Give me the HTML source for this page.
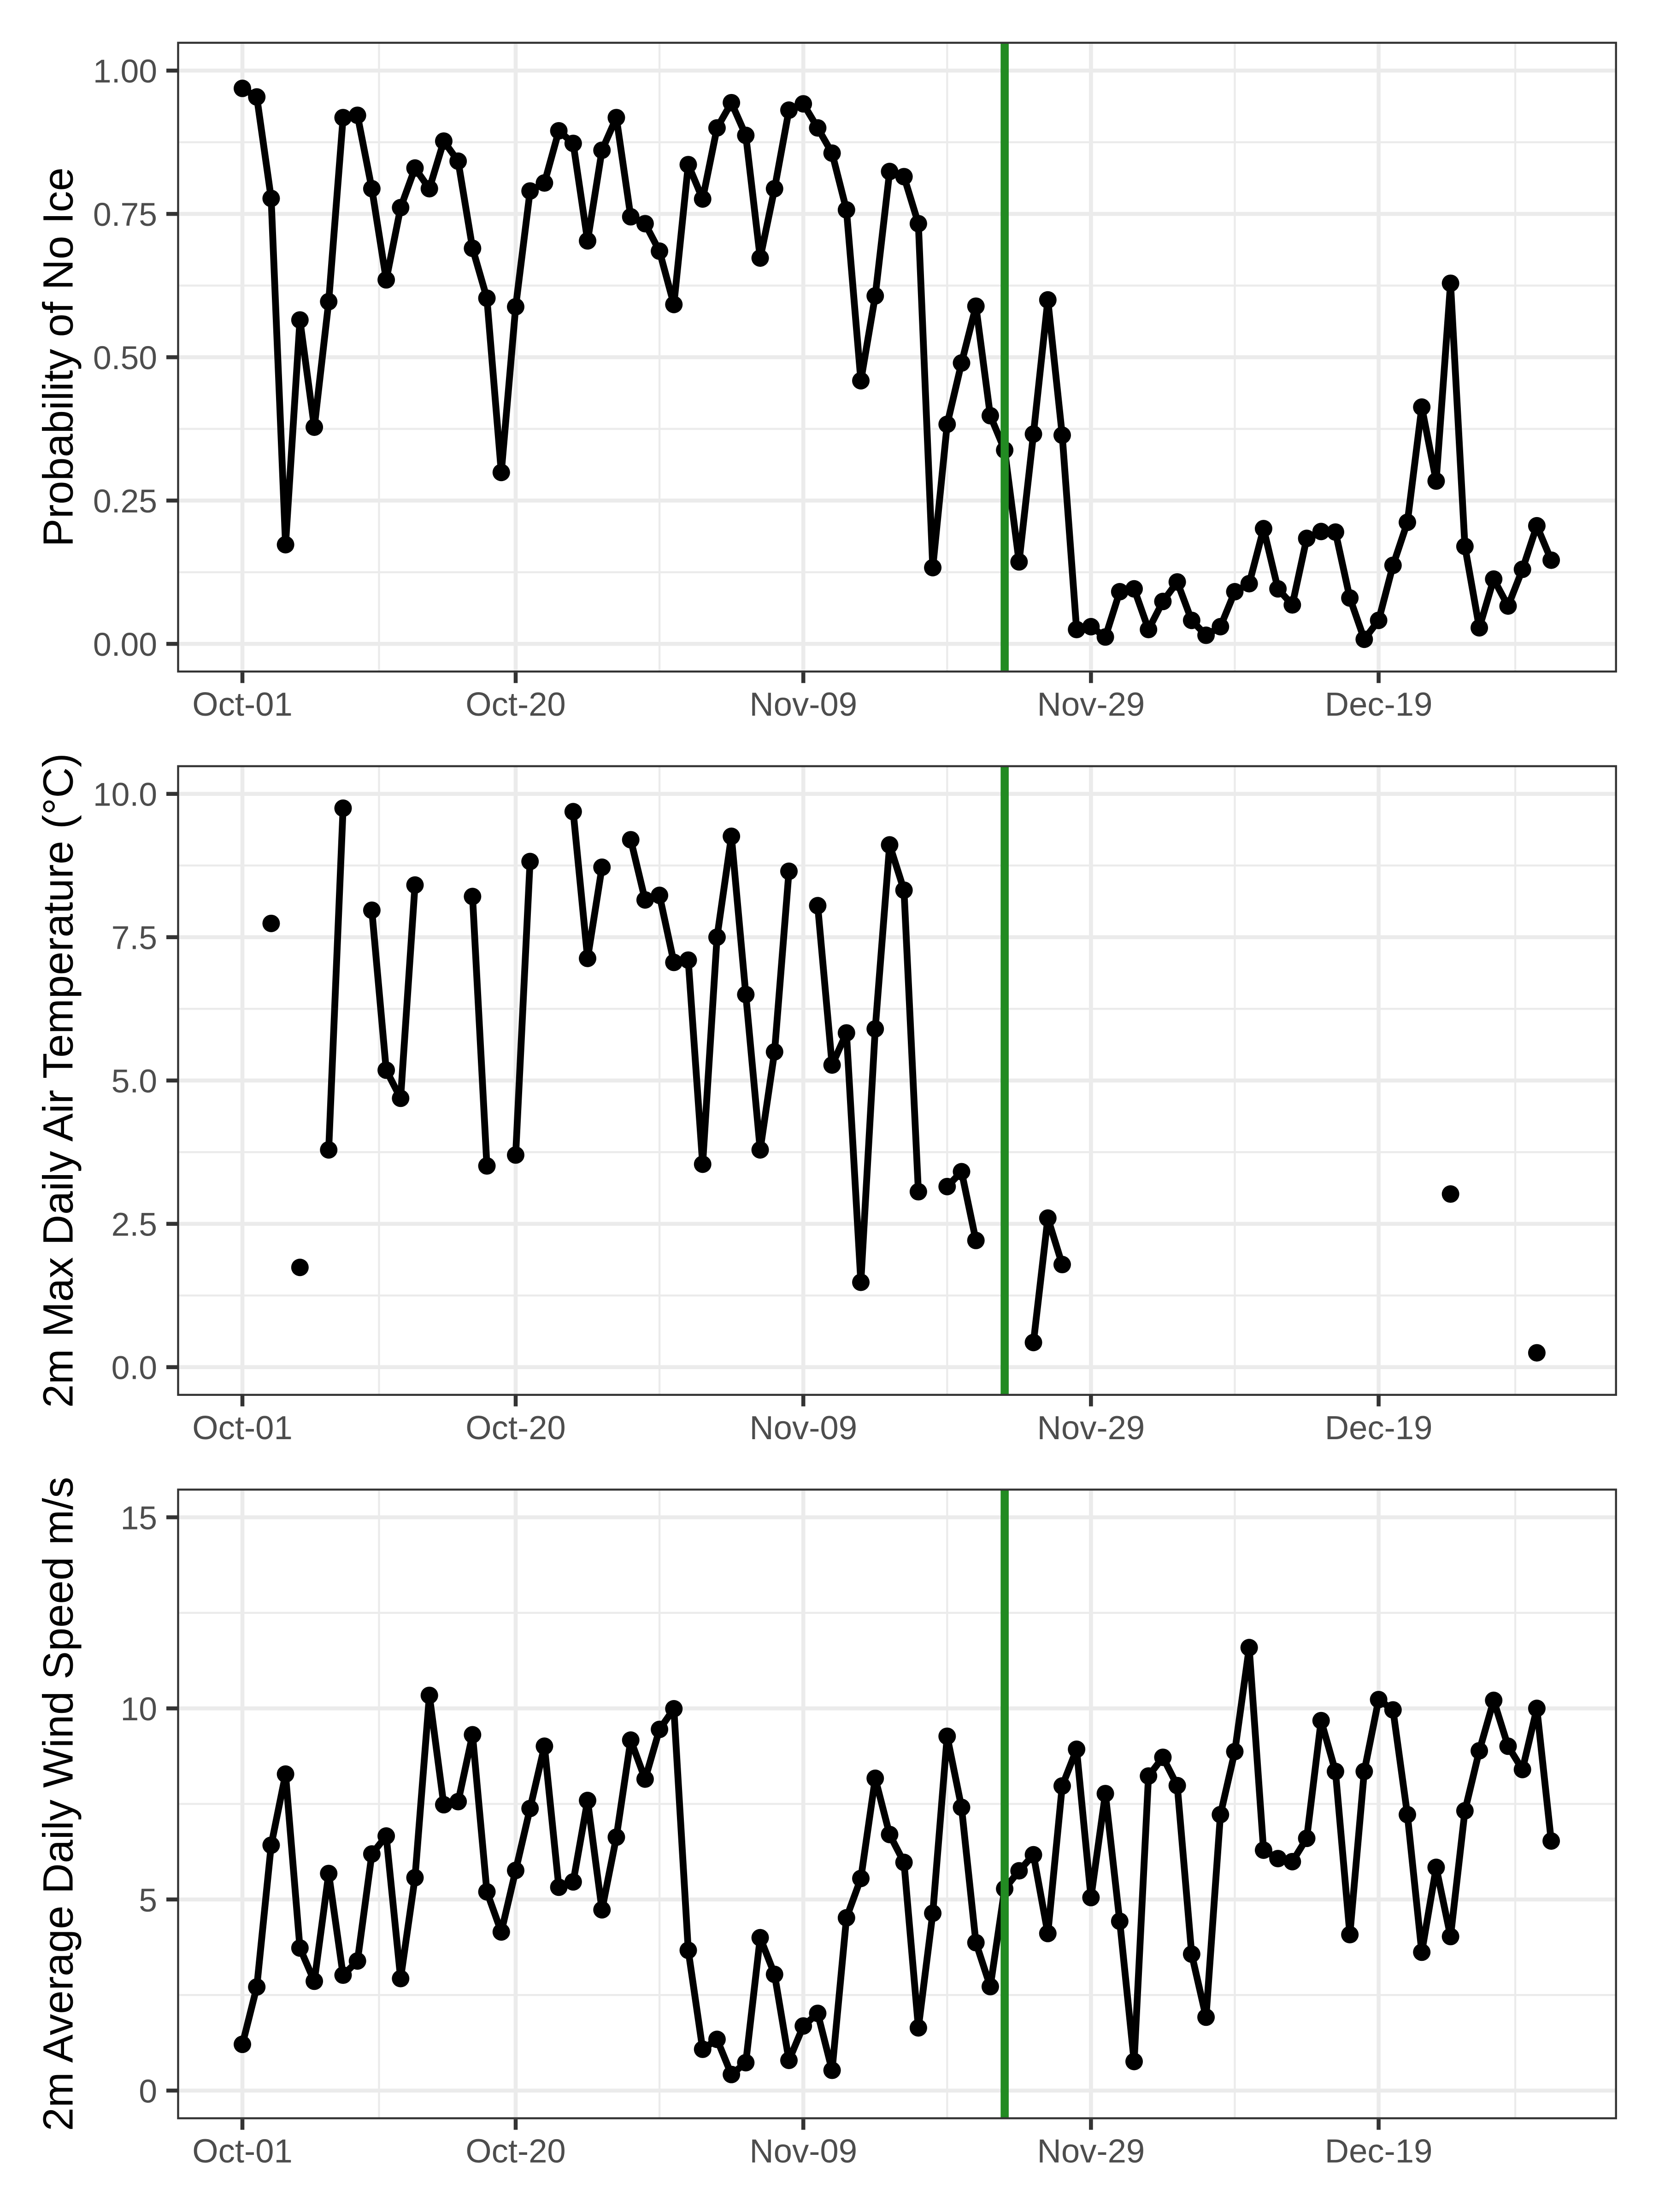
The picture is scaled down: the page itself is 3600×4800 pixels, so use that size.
<!DOCTYPE html>
<html lang="en">
<head>
<meta charset="utf-8">
<title>Probability of No Ice, Air Temperature and Wind Speed</title>
<style>
html,body{margin:0;padding:0;background:#fff;}
svg{display:block;font-family:"Liberation Sans",Arial,sans-serif;}
</style>
</head>
<body>
<svg id="chart" xmlns="http://www.w3.org/2000/svg" width="3600" height="4800" viewBox="0 0 3600 4800"></svg>
<script>
const dates = ["Oct-01","Oct-02","Oct-03","Oct-04","Oct-05","Oct-06","Oct-07","Oct-08","Oct-09","Oct-10","Oct-11","Oct-12","Oct-13","Oct-14","Oct-15","Oct-16","Oct-17","Oct-18","Oct-19","Oct-20","Oct-21","Oct-22","Oct-23","Oct-24","Oct-25","Oct-26","Oct-27","Oct-28","Oct-29","Oct-30","Oct-31","Nov-01","Nov-02","Nov-03","Nov-04","Nov-05","Nov-06","Nov-07","Nov-08","Nov-09","Nov-10","Nov-11","Nov-12","Nov-13","Nov-14","Nov-15","Nov-16","Nov-17","Nov-18","Nov-19","Nov-20","Nov-21","Nov-22","Nov-23","Nov-24","Nov-25","Nov-26","Nov-27","Nov-28","Nov-29","Nov-30","Dec-01","Dec-02","Dec-03","Dec-04","Dec-05","Dec-06","Dec-07","Dec-08","Dec-09","Dec-10","Dec-11","Dec-12","Dec-13","Dec-14","Dec-15","Dec-16","Dec-17","Dec-18","Dec-19","Dec-20","Dec-21","Dec-22","Dec-23","Dec-24","Dec-25","Dec-26","Dec-27","Dec-28","Dec-29","Dec-30","Dec-31"];

const probNoIce = [0.969,0.954,0.777,0.173,0.565,0.378,0.597,0.918,0.922,0.794,0.635,0.761,0.830,0.794,0.877,0.842,0.690,0.603,0.299,0.588,0.790,0.804,0.895,0.873,0.703,0.861,0.918,0.745,0.733,0.685,0.592,0.836,0.776,0.900,0.944,0.887,0.673,0.794,0.931,0.942,0.900,0.856,0.757,0.459,0.607,0.824,0.815,0.733,0.133,0.383,0.490,0.589,0.398,0.338,0.143,0.366,0.600,0.364,0.025,0.030,0.012,0.091,0.096,0.025,0.074,0.108,0.041,0.015,0.030,0.091,0.105,0.201,0.096,0.068,0.184,0.196,0.195,0.080,0.008,0.041,0.137,0.212,0.413,0.284,0.629,0.170,0.028,0.113,0.066,0.130,0.206,0.146];

const maxAirTemp = [null,null,7.74,null,1.74,null,3.79,9.75,null,7.97,5.18,4.69,8.41,null,null,null,8.21,3.51,null,3.70,8.82,null,null,9.69,7.13,8.72,null,9.20,8.15,8.23,7.06,7.10,3.54,7.50,9.26,6.50,3.79,5.50,8.65,null,8.05,5.27,5.83,1.48,5.90,9.11,8.32,3.06,null,3.15,3.41,2.21,null,null,null,0.43,2.60,1.79,null,null,null,null,null,null,null,null,null,null,null,null,null,null,null,null,null,null,null,null,null,null,null,null,null,null,3.02,null,null,null,null,null,0.25,null];

const windSpeed = [1.21,2.71,6.42,8.28,3.73,2.86,5.68,3.02,3.39,6.19,6.66,2.93,5.57,10.34,7.48,7.56,9.31,5.20,4.15,5.76,7.38,9.01,5.32,5.46,7.59,4.73,6.63,9.17,8.15,9.45,9.99,3.67,1.08,1.34,0.42,0.73,4.00,3.04,0.79,1.69,2.02,0.53,4.52,5.55,8.17,6.70,5.97,1.64,4.64,9.27,7.41,3.87,2.72,5.28,5.75,6.17,4.11,7.97,8.93,5.05,7.77,4.43,0.76,8.23,8.72,7.98,3.57,1.92,7.22,8.87,11.59,6.29,6.07,5.99,6.60,9.68,8.35,4.08,8.35,10.23,9.96,7.22,3.62,5.84,4.03,7.32,8.89,10.21,9.01,8.40,10.00,6.53];

const xTickDates = ["Oct-01","Oct-20","Nov-09","Nov-29","Dec-19"];
const xMinorDays = [9.5,29,49,69,88.5];
const markerDate = "Nov-23";

const probTicks = [0,0.25,0.5,0.75,1];
const probTickLabels = ["0.00","0.25","0.50","0.75","1.00"];
const probMinorTicks = [0.125,0.375,0.625,0.875];

const tempTicks = [0,2.5,5,7.5,10];
const tempTickLabels = ["0.0","2.5","5.0","7.5","10.0"];
const tempMinorTicks = [1.25,3.75,6.25,8.75];

const windTicks = [0,5,10,15];
const windTickLabels = ["0","5","10","15"];
const windMinorTicks = [2.5,7.5,12.5];

const SVG_NS = "http://www.w3.org/2000/svg";
const svg = document.getElementById("chart");

const X_ORIGIN = 526;
const X_PER_DAY = 31.21;
const LEFT = 386.5;
const RIGHT = 3506.7;
const Y_SPAN = 1244;

function x(dayIndex) { return X_ORIGIN + dayIndex * X_PER_DAY; }
function dayOf(label) { return dates.indexOf(label); }

function makeEl(tag, parent, props) {
  const el = document.createElementNS(SVG_NS, tag);
  for (const k in props) el.setAttribute(k, props[k]);
  parent.appendChild(el);
  return el;
}

function drawPanel(cfg) {
  const y = function (v) { return cfg.zeroY - v * Y_SPAN / cfg.maxTick; };

  const g = makeEl("g", svg, {});
  
  

  const clipId = cfg.name + "-clip";
  const defs = makeEl("defs", g, {});
  const clip = makeEl("clipPath", defs, { id: clipId });
  makeEl("rect", clip, { x: LEFT, y: cfg.top, width: RIGHT - LEFT, height: cfg.bottom - cfg.top });

  const grid = makeEl("g", g, { "clip-path": "url(#" + clipId + ")" });
  
  

  cfg.minorTicks.forEach(function (v) {
    const l = makeEl("line", grid, { x1: LEFT, x2: RIGHT, y1: y(v), y2: y(v), stroke: "#ebebeb", "stroke-width": 4.3 });
    
    
  });
  xMinorDays.forEach(function (d) {
    const l = makeEl("line", grid, { x1: x(d), x2: x(d), y1: cfg.top, y2: cfg.bottom, stroke: "#ebebeb", "stroke-width": 4.3 });
    
    
  });
  cfg.ticks.forEach(function (v) {
    const l = makeEl("line", grid, { x1: LEFT, x2: RIGHT, y1: y(v), y2: y(v), stroke: "#ebebeb", "stroke-width": 8.6 });
    
    
  });
  xTickDates.forEach(function (lbl) {
    const px = x(dayOf(lbl));
    const l = makeEl("line", grid, { x1: px, x2: px, y1: cfg.top, y2: cfg.bottom, stroke: "#ebebeb", "stroke-width": 8.6 });
    
    
  });

  const series = makeEl("g", g, {});
  
  

  let run = [];
  const flush = function () {
    if (run.length > 1) {
      const p = makeEl("polyline", series, { points: run.join(" "), fill: "none", stroke: "#000", "stroke-width": 14.8, "stroke-linejoin": "round", "stroke-linecap": "butt" });
      
      
    }
    run = [];
  };
  cfg.values.forEach(function (v, i) {
    if (v === null) { flush(); return; }
    run.push(x(i).toFixed(2) + "," + y(v).toFixed(2));
  });
  flush();

  cfg.values.forEach(function (v, i) {
    if (v === null) return;
    const c = makeEl("circle", series, { cx: x(i), cy: y(v), r: 19, fill: "#000" });
    
    
  });

  const marker = makeEl("line", g, { x1: x(dayOf(markerDate)), x2: x(dayOf(markerDate)), y1: cfg.top, y2: cfg.bottom, stroke: "#228b22", "stroke-width": 17.6 });
  
  

  const border = makeEl("rect", g, { x: LEFT, y: cfg.top, width: RIGHT - LEFT, height: cfg.bottom - cfg.top, fill: "none", stroke: "#333333", "stroke-width": 4.4 });
  
  

  cfg.ticks.forEach(function (v, i) {
    const t = makeEl("line", g, { x1: 361, x2: 384.5, y1: y(v), y2: y(v), stroke: "#333333", "stroke-width": 8.6 });
    
    
    const lab = makeEl("text", g, { x: 341, y: y(v) + 26, "text-anchor": "end", "font-size": 71.5, fill: "#4d4d4d" });
    lab.textContent = cfg.tickLabels[i];
    
    
  });

  xTickDates.forEach(function (lbl) {
    const px = x(dayOf(lbl));
    const t = makeEl("line", g, { x1: px, x2: px, y1: cfg.bottom + 2.2, y2: cfg.bottom + 25, stroke: "#333333", "stroke-width": 8.6 });
    
    
    const lab = makeEl("text", g, { x: px, y: cfg.bottom + 96, "text-anchor": "middle", "font-size": 72.5, fill: "#4d4d4d" });
    lab.textContent = lbl;
    
    
  });

  const cy = (cfg.top + cfg.bottom) / 2;
  const title = makeEl("text", g, { x: 157.5, y: cy, "text-anchor": "middle", "font-size": 92, fill: "#000", transform: "rotate(-90 157.5 " + cy + ")" });
  title.textContent = cfg.title;
  
  
}

drawPanel({
  name: "probability-no-ice",
  title: "Probability of No Ice",
  values: probNoIce,
  ticks: probTicks,
  tickLabels: probTickLabels,
  minorTicks: probMinorTicks,
  maxTick: 1,
  top: 92.8,
  bottom: 1457.2,
  zeroY: 1397.2
});
drawPanel({
  name: "max-air-temperature",
  title: "2m Max Daily Air Temperature (\u00B0C)",
  values: maxAirTemp,
  ticks: tempTicks,
  tickLabels: tempTickLabels,
  minorTicks: tempMinorTicks,
  maxTick: 10,
  top: 1662.6,
  bottom: 3026.8,
  zeroY: 2966.7
});
drawPanel({
  name: "wind-speed",
  title: "2m Average Daily Wind Speed m/s",
  values: windSpeed,
  ticks: windTicks,
  tickLabels: windTickLabels,
  minorTicks: windMinorTicks,
  maxTick: 15,
  top: 3232.4,
  bottom: 4596.6,
  zeroY: 4536.5
});
</script>
</body>
</html>
